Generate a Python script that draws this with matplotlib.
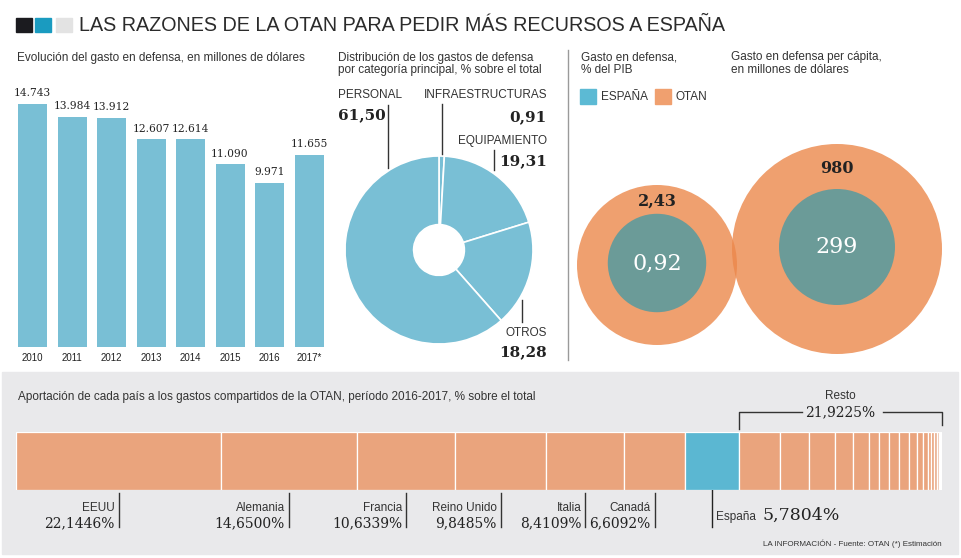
import numpy as np
import matplotlib
matplotlib.use('Agg')
import matplotlib.pyplot as plt
from matplotlib.patches import Rectangle, Circle
from matplotlib import transforms

# datos
years = ['2010', '2011', '2012', '2013', '2014', '2015', '2016', '2017*']
spending = [14743, 13984, 13912, 12607, 12614, 11090, 9971, 11655]

pie_labels = ['INFRAESTRUCTURAS', 'EQUIPAMIENTO', 'OTROS', 'PERSONAL']
pie_values = [0.91, 19.31, 18.28, 61.50]

pib_spain, pib_nato = 0.92, 2.43
capita_spain, capita_nato = 299, 980

countries = ['EEUU', 'Alemania', 'Francia', 'Reino Unido', 'Italia', 'Canadá', 'España']
shares = [22.1446, 14.6500, 10.6339, 9.8485, 8.4109, 6.6092, 5.7804]
rest_shares = [4.43, 3.13, 2.81, 1.94, 1.73, 1.08, 1.08, 1.08, 1.08, 0.86,
               0.65, 0.54, 0.32, 0.32, 0.32, 0.22, 0.12, 0.09, 0.07, 0.0525]
rest_total = 21.9225

SANS = 'Liberation Sans'
SERIF = 'DejaVu Serif'
TXT = '#333333'
BLUE = '#79bfd5'
SPAIN_BAR = '#5bb7d2'

W, H = 961, 558
fig = plt.figure(figsize=(W / 100, H / 100), dpi=100)


def px_axes(x0, y0, x1, y1):
    ax = fig.add_axes([x0 / W, 1 - y1 / H, (x1 - x0) / W, (y1 - y0) / H], zorder=2)
    ax.patch.set_visible(False)
    return ax


# capa de fondo en pixeles
ov = fig.add_axes([0, 0, 1, 1], zorder=1)
ov.set_xlim(0, W)
ov.set_ylim(H, 0)
ov.axis('off')

ov.add_patch(Rectangle((2, 372), 956, 182, color='#e9e9eb', zorder=0))

# cabecera
for x, c in [(16, '#1b1b1f'), (35, '#1a9bc0'), (56, '#e3e3e3')]:
    ov.add_patch(Rectangle((x, 18), 16, 14, color=c))
ov.text(79, 25.5, 'LAS RAZONES DE LA OTAN PARA PEDIR MÁS RECURSOS A ESPAÑA',
        family=SANS, fontsize=14.2, color='#2b2b2b', va='center', ha='left')

# --- barras
ov.text(17, 58, 'Evolución del gasto en defensa, en millones de dólares',
        family=SANS, fontsize=8.5, color=TXT, va='center')
pitch = 39.5
scale = 243 / 14743
ymax = 16000
axb = px_axes(32.5 - pitch / 2, 347 - ymax * scale, 32.5 + 7.5 * pitch, 347)
x = np.arange(len(years))
axb.bar(x, spending, width=29 / pitch, color=BLUE)
axb.set_xlim(-0.5, len(years) - 0.5)
axb.set_ylim(0, ymax)
for xi, v in zip(x, spending):
    axb.annotate(f'{v:,}'.replace(',', '.'), (xi, v), xytext=(0, 4), textcoords='offset points',
                 ha='center', va='bottom', family=SERIF, fontsize=7.7, color='#222222')
axb.set_xticks(x)
axb.set_xticklabels(years, family=SANS, fontsize=7, color='#222222')
axb.tick_params(axis='x', length=0, pad=4)
axb.set_yticks([])
for s in axb.spines.values():
    s.set_visible(False)

# --- donut
ov.text(338, 58, 'Distribución de los gastos de defensa', family=SANS, fontsize=8.5, color=TXT, va='center')
ov.text(338, 70, 'por categoría principal, % sobre el total', family=SANS, fontsize=8.5, color=TXT, va='center')
axp = px_axes(345, 156, 533, 344)
axp.pie(pie_values, radius=1, startangle=90, counterclock=False, colors=[BLUE] * 4,
        wedgeprops=dict(width=0.73, edgecolor='white', linewidth=1.2))
axp.set_xlim(-1, 1)
axp.set_ylim(-1, 1)

pie_text = [
    ('PERSONAL', 338, 95, 115, 'left', (388, 105, 168)),
    ('INFRAESTRUCTURAS', 547, 95, 117, 'right', (442, 104, 155)),
    ('EQUIPAMIENTO', 547, 141, 161, 'right', (494, 150, 170)),
    ('OTROS', 547, 333, 352, 'right', (522, 300, 322)),
]
for (name, tx, ny, vy, ha, ln), v in zip(pie_text, [61.50, 0.91, 19.31, 18.28]):
    ov.text(tx, ny, name, family=SANS, fontsize=8.5, color=TXT, ha=ha, va='center')
    ov.text(tx, vy, f'{v:.2f}'.replace('.', ','), family=SERIF, fontsize=11,
            fontweight='bold', color='#222222', ha=ha, va='center')
    ov.plot([ln[0], ln[0]], [ln[1], ln[2]], color='#333333', lw=1)

# separador
ov.plot([568, 568], [50, 360], color='#9a9a9a', lw=1)

# --- circulos
ov.text(581, 57, 'Gasto en defensa,', family=SANS, fontsize=8.5, color=TXT, va='center')
ov.text(581, 70, '% del PIB', family=SANS, fontsize=8.5, color=TXT, va='center')
ov.text(731, 57, 'Gasto en defensa per cápita,', family=SANS, fontsize=8.5, color=TXT, va='center')
ov.text(731, 70, 'en millones de dólares', family=SANS, fontsize=8.5, color=TXT, va='center')

ov.add_patch(Rectangle((580, 89), 16, 15, color='#5cbad4'))
ov.text(601, 97, 'ESPAÑA', family=SANS, fontsize=8.5, color=TXT, va='center')
ov.add_patch(Rectangle((655, 89), 16, 15, color='#f0a06f'))
ov.text(676, 97, 'OTAN', family=SANS, fontsize=8.5, color=TXT, va='center')

for (cx, cy, R, sp, nato, fmt) in [(657, 265, 80, pib_spain, pib_nato, lambda v: f'{v:.2f}'.replace('.', ',')),
                                   (837, 249, 105, capita_spain, capita_nato, lambda v: f'{v}')]:
    r = R * np.sqrt(sp / nato)
    ov.add_patch(Circle((cx, cy), R, color='#ec884b', alpha=0.8, lw=0, zorder=2))
    ov.add_patch(Circle((cx, cy - 2), r, color='#6b9b98', lw=0, zorder=3))
    ov.text(cx, cy - 2, fmt(sp), family=SERIF, fontsize=16, color='white',
            ha='center', va='center', zorder=4)
    ov.text(cx, cy - (r + (R - r) / 2) + 1, fmt(nato), family=SERIF, fontsize=11.5,
            fontweight='bold', color='#222222', ha='center', va='center', zorder=4)

# --- barra apilada
ov.text(18, 397, 'Aportación de cada país a los gastos compartidos de la OTAN, período 2016-2017, % sobre el total',
        family=SANS, fontsize=8.5, color=TXT, va='center')
axs = px_axes(16, 432, 942, 490)
axs.set_xlim(0, 100)
axs.set_ylim(-0.5, 0.5)
axs.axis('off')
all_shares = shares + rest_shares
left = np.concatenate([[0], np.cumsum(all_shares)[:-1]])
colors = []
for i in range(len(all_shares)):
    if i == len(shares) - 1:
        colors.append(SPAIN_BAR)
    else:
        k = i - (len(all_shares) - 6)
        a = 1.0 if k < 0 else 0.85 - 0.13 * k
        colors.append((0.918, 0.643, 0.490, a))
axs.barh(0, all_shares, left=left, height=1, color=colors, edgecolor='white', linewidth=0.9)

tr = transforms.blended_transform_factory(axs.transData, ov.transData)
tr_lab = transforms.offset_copy(tr, fig=fig, x=-4, y=0, units='dots')
for name, s, l in zip(countries[:-1], shares[:-1], left):
    c = l + s / 2
    ov.plot([c, c], [493, 527], color='#333333', lw=1, transform=tr)
    ov.text(c, 508, name, family=SANS, fontsize=8.5, color=TXT, ha='right', va='center', transform=tr_lab)
    ov.text(c, 523, f'{s:.4f}'.replace('.', ',') + '%', family=SERIF, fontsize=10, color='#222222',
            ha='right', va='center', transform=tr_lab)

# España
c_es = left[len(shares) - 1] + shares[-1] / 2
ov.plot([c_es, c_es], [467, 527], color='#222222', lw=1, transform=tr)
ov.plot([c_es], [467], 'o', color='#111111', ms=5, transform=tr)
tr_es = transforms.offset_copy(tr, fig=fig, x=4, y=0, units='dots')
ov.text(c_es, 517, 'España', family=SANS, fontsize=8.5, color=TXT, ha='left', va='center', transform=tr_es)
tr_es2 = transforms.offset_copy(tr, fig=fig, x=50, y=0, units='dots')
ov.text(c_es, 515, f'{shares[-1]:.4f}'.replace('.', ',') + '%', family=SERIF, fontsize=12.5,
        color='#222222', ha='left', va='center', transform=tr_es2)

# Resto
r0 = sum(shares)
r1 = r0 + rest_total
rm = (r0 + r1) / 2
ov.plot([r0, r0, r0 + 6.8], [429, 412, 412], color='#333333', lw=1, transform=tr)
ov.plot([r1 - 6.4, r1, r1], [412, 412, 425], color='#333333', lw=1, transform=tr)
ov.text(rm, 396, 'Resto', family=SANS, fontsize=8.5, color=TXT, ha='center', va='center', transform=tr)
ov.text(rm, 412, f'{rest_total:.4f}'.replace('.', ',') + '%', family=SERIF, fontsize=10,
        color='#222222', ha='center', va='center', transform=tr)

ov.text(942, 544, 'LA INFORMACIÓN - Fuente: OTAN (*) Estimación', family=SANS, fontsize=5.8,
        color='#333333', ha='right', va='center')

fig.savefig('out.png', dpi=100)
